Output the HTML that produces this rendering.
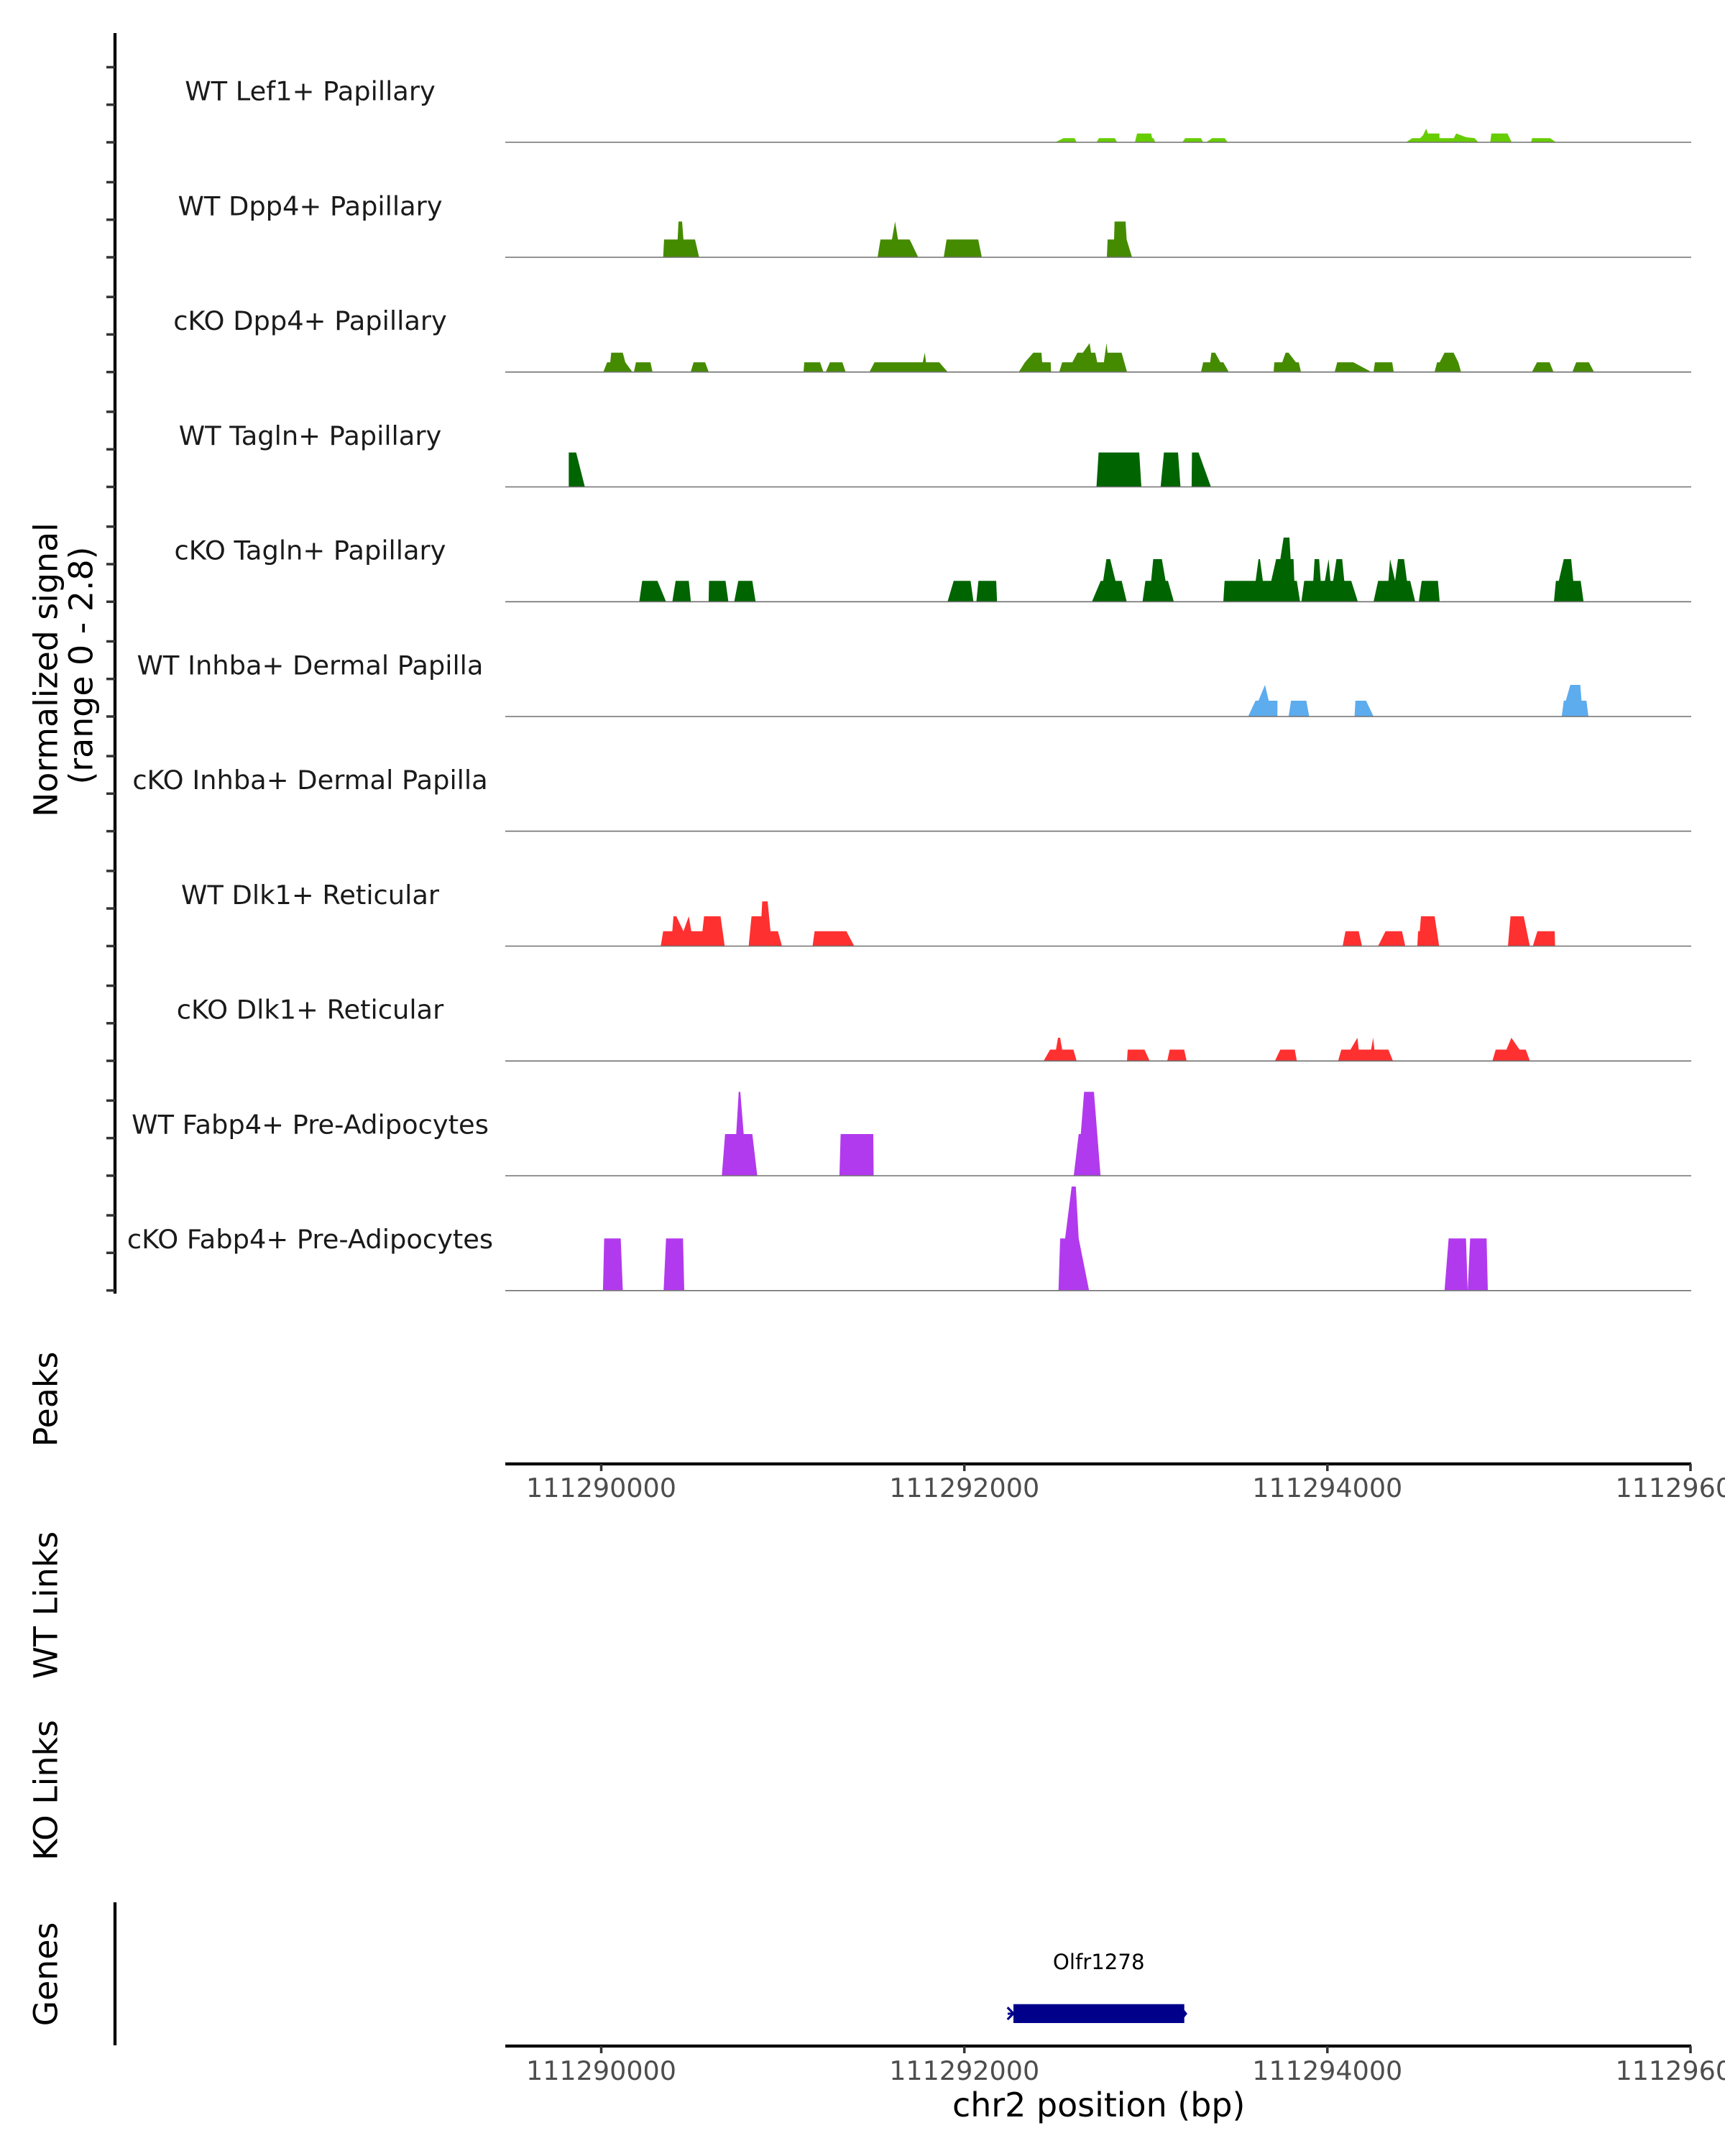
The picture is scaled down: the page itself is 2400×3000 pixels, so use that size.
<!DOCTYPE html>
<html>
<head>
<meta charset="utf-8">
<style>
  html, body { margin: 0; padding: 0; background: #ffffff; }
  svg { display: block; }
  text { font-family: "DejaVu Sans", "Liberation Sans", sans-serif; }
</style>
</head>
<body>
<svg xmlns="http://www.w3.org/2000/svg" width="2400" height="3000" viewBox="0 0 2400 3000">
  <rect x="0" y="0" width="2400" height="3000" fill="#ffffff"/>

  <!-- Left y axis for coverage tracks -->
  <line x1="160" y1="46" x2="160" y2="1800" stroke="#000" stroke-width="4.3"/>
  <g stroke="#333333" stroke-width="3.5">
    <line x1="148" y1="198" x2="160" y2="198"/><line x1="148" y1="145.7" x2="160" y2="145.7"/><line x1="148" y1="93.5" x2="160" y2="93.5"/>
    <line x1="148" y1="358" x2="160" y2="358"/><line x1="148" y1="305.7" x2="160" y2="305.7"/><line x1="148" y1="253.5" x2="160" y2="253.5"/>
    <line x1="148" y1="517.7" x2="160" y2="517.7"/><line x1="148" y1="465.4" x2="160" y2="465.4"/><line x1="148" y1="413.2" x2="160" y2="413.2"/>
    <line x1="148" y1="677.5" x2="160" y2="677.5"/><line x1="148" y1="625.2" x2="160" y2="625.2"/><line x1="148" y1="573" x2="160" y2="573"/>
    <line x1="148" y1="837.3" x2="160" y2="837.3"/><line x1="148" y1="785" x2="160" y2="785"/><line x1="148" y1="732.8" x2="160" y2="732.8"/>
    <line x1="148" y1="997" x2="160" y2="997"/><line x1="148" y1="944.7" x2="160" y2="944.7"/><line x1="148" y1="892.5" x2="160" y2="892.5"/>
    <line x1="148" y1="1156.6" x2="160" y2="1156.6"/><line x1="148" y1="1104.3" x2="160" y2="1104.3"/><line x1="148" y1="1052.1" x2="160" y2="1052.1"/>
    <line x1="148" y1="1316.4" x2="160" y2="1316.4"/><line x1="148" y1="1264.1" x2="160" y2="1264.1"/><line x1="148" y1="1211.9" x2="160" y2="1211.9"/>
    <line x1="148" y1="1476.1" x2="160" y2="1476.1"/><line x1="148" y1="1423.8" x2="160" y2="1423.8"/><line x1="148" y1="1371.6" x2="160" y2="1371.6"/>
    <line x1="148" y1="1635.9" x2="160" y2="1635.9"/><line x1="148" y1="1583.6" x2="160" y2="1583.6"/><line x1="148" y1="1531.4" x2="160" y2="1531.4"/>
    <line x1="148" y1="1795.6" x2="160" y2="1795.6"/><line x1="148" y1="1743.3" x2="160" y2="1743.3"/><line x1="148" y1="1691.1" x2="160" y2="1691.1"/>
  </g>

  <!-- Y axis title -->
  <text transform="translate(79.6,932) rotate(-90)" text-anchor="middle" font-size="45.8" fill="#000">Normalized signal</text>
  <text transform="translate(128.6,926) rotate(-90)" text-anchor="middle" font-size="45.8" fill="#000">(range 0 - 2.8)</text>

  <!-- Track labels -->
  <g font-size="36.8" fill="#1a1a1a" text-anchor="middle">
    <text x="431.5" y="139.6">WT Lef1+ Papillary</text>
    <text x="431.5" y="299.4">WT Dpp4+ Papillary</text>
    <text x="431.5" y="459.1">cKO Dpp4+ Papillary</text>
    <text x="431.5" y="618.9">WT Tagln+ Papillary</text>
    <text x="431.5" y="778.6">cKO Tagln+ Papillary</text>
    <text x="431.5" y="938.4">WT Inhba+ Dermal Papilla</text>
    <text x="431.5" y="1098.1">cKO Inhba+ Dermal Papilla</text>
    <text x="431.5" y="1257.9">WT Dlk1+ Reticular</text>
    <text x="431.5" y="1417.6">cKO Dlk1+ Reticular</text>
    <text x="431.5" y="1577.4">WT Fabp4+ Pre-Adipocytes</text>
    <text x="431.5" y="1737.1">cKO Fabp4+ Pre-Adipocytes</text>
  </g>

  <!-- Track 1: WT Lef1+ -->
  <g fill="#66CD00">
    <polygon points="1468,198 1479.6,192.3 1495,192.3 1498,198"/>
    <polygon points="1525.6,198 1529,192.3 1551,192.3 1554.3,198"/>
    <polygon points="1579,198 1582,185.8 1601.6,185.8 1603,192.3 1605,192.3 1607.3,198"/>
    <polygon points="1645,198 1649,192.3 1671,192.3 1674,198"/>
    <polygon points="1678,198 1686.6,192.3 1704,192.3 1708,198"/>
    <polygon points="1956,198 1965,192.3 1976,192.3 1980,188 1984.3,179 1986.7,185.8 2002.7,185.8 2002.7,192.3 2022.7,192.3 2026,185.8 2040,191 2051.7,192.3 2056.7,198"/>
    <polygon points="2073.3,198 2075,185.8 2097.3,185.8 2103.3,198"/>
    <polygon points="2130,198 2131.7,192.3 2156.7,192.3 2165,198"/>
  </g>

  <!-- Track 2: WT Dpp4+ -->
  <g fill="#458B00">
    <polygon points="922.7,358 923.9,333.2 942.8,333.2 944,308.3 949,308.3 950.9,333.2 967,333.2 972.7,358"/>
    <polygon points="1221,358 1225,333.2 1241,333.2 1245.3,308.3 1249.4,333.2 1265.5,333.2 1268,338 1277.5,358"/>
    <polygon points="1313,358 1317,333.2 1361,333.2 1366,358"/>
    <polygon points="1540,358 1541,333.2 1550,333.2 1550.7,308.3 1566,308.3 1567.5,333.2 1575,358"/>
  </g>

  <!-- Track 3: cKO Dpp4+ -->
  <g fill="#458B00">
    <polygon points="839.5,517.4 844.7,504.1 849,504.1 850.4,490.8 866.5,490.8 870,504.1 879.7,517.4"/>
    <polygon points="882,517.4 884.8,504.1 905,504.1 907.8,517.4"/>
    <polygon points="961,517.4 965,504.1 981,504.1 986,517.4"/>
    <polygon points="1118,517.4 1119,504.1 1141,504.1 1145.5,517.4"/>
    <polygon points="1149,517.4 1154.7,504.1 1172,504.1 1176.5,517.4"/>
    <polygon points="1209.8,517.4 1216.7,504.1 1283.8,504.1 1286.7,490.8 1288.4,504.1 1306.8,504.1 1318.3,517.4"/>
    <polygon points="1417.6,517.4 1426,504.1 1437.7,490.8 1449,490.8 1450,504.1 1461.8,504.1 1462.3,517.4"/>
    <polygon points="1473.8,517.4 1477.8,504.1 1492,504.1 1499,490.8 1506.6,490.8 1516,477.5 1518,490.8 1523.8,490.8 1526.6,504.1 1535.8,504.1 1539.5,477.5 1541,490.8 1560.5,490.8 1568,517.4"/>
    <polygon points="1671,517.4 1674,504.1 1683.7,504.1 1685.4,490.8 1690.6,490.8 1698,504.1 1702,504.1 1709.5,517.4"/>
    <polygon points="1772,517.4 1773,504.1 1784,504.1 1788.7,490.8 1792.8,490.8 1803,504.1 1807,504.1 1810,517.4"/>
    <polygon points="1857,517.4 1860.5,504.1 1883,504.1 1907.6,517.4"/>
    <polygon points="1911,517.4 1913,504.1 1937,504.1 1939,517.4"/>
    <polygon points="1996,517.4 1999.4,504.1 2003,504.1 2009.8,490.8 2022.4,490.8 2029,504.1 2032.7,517.4"/>
    <polygon points="2131.5,517.4 2138.4,504.1 2156,504.1 2161.3,517.4"/>
    <polygon points="2187.7,517.4 2193,504.1 2210.7,504.1 2217.6,517.4"/>
  </g>

  <!-- Track 4: WT Tagln+ -->
  <g fill="#006400">
    <polygon points="791.3,677.5 791.3,629.6 801.6,629.6 813.7,677.5"/>
    <polygon points="1525.5,677.5 1528.5,629.6 1585,629.6 1588,677.5"/>
    <polygon points="1614.8,677.5 1619.4,629.6 1639,629.6 1642.4,677.5"/>
    <polygon points="1657.9,677.5 1658.4,629.6 1667.6,629.6 1684.8,677.5"/>
  </g>

  <!-- Track 5: cKO Tagln+ -->
  <g fill="#006400">
    <polygon points="889.4,837.3 893.5,808.2 914.7,808.2 926.7,837.3"/>
    <polygon points="935.4,837.3 940,808.2 958.3,808.2 961.2,837.3"/>
    <polygon points="985.9,837.3 986.5,808.2 1009.4,808.2 1013.4,837.3"/>
    <polygon points="1021.5,837.3 1027.2,808.2 1046.7,808.2 1051.3,837.3"/>
    <polygon points="1318.3,837.3 1326.9,808.2 1350.4,808.2 1354.4,837.3"/>
    <polygon points="1358.4,837.3 1361.3,808.2 1386,808.2 1387.2,837.3"/>
    <polygon points="1519.2,837.3 1531.4,808.2 1534.8,808.2 1539.4,778 1544.6,778 1552,808.2 1560.6,808.2 1567.6,837.3"/>
    <polygon points="1589.6,837.3 1593.6,808.2 1601.6,808.2 1604.5,778 1616.5,778 1621.7,808.2 1625,808.2 1633.2,837.3"/>
    <polygon points="1702,837.3 1703.8,808.2 1747,808.2 1751,778 1753,778 1757,808.2 1768.7,808.2 1775.5,778 1781.3,778 1785.9,748 1794,748 1795.6,778 1799.7,778 1800.8,808.2 1804.3,808.2 1808.8,837.3"/>
    <polygon points="1810.6,837.3 1814.6,808.2 1827.2,808.2 1829,778 1835.3,778 1837.5,808.2 1843.3,808.2 1848.5,778 1851,808.2 1854.8,808.2 1859.4,778 1867.4,778 1870.3,808.2 1880,808.2 1889.2,837.3"/>
    <polygon points="1911,837.3 1917.4,808.2 1931.7,808.2 1934,778 1941,808.2 1945,778 1953.5,778 1957.5,808.2 1962,808.2 1969,837.3"/>
    <polygon points="1974,837.3 1978,808.2 2000.6,808.2 2003,837.3"/>
    <polygon points="2162,837.3 2164.7,808.2 2168.8,808.2 2175.7,778 2186,778 2188.9,808.2 2199.2,808.2 2203.2,837.3"/>
  </g>

  <!-- Track 6: WT Inhba+ -->
  <g fill="#5CACEE">
    <polygon points="1736.5,997 1746.8,975 1750.9,975 1760,953 1765.2,975 1777.3,975 1777.3,997"/>
    <polygon points="1792.8,997 1796.2,975 1817.5,975 1821.5,997"/>
    <polygon points="1884.6,997 1885.8,975 1900.7,975 1911,997"/>
    <polygon points="2172.8,997 2175.7,975 2178.5,975 2184.8,953 2198.6,953 2200.4,975 2207.2,975 2210,997"/>
  </g>

  <!-- Track 8: WT Dlk1+ -->
  <g fill="#FF3030">
    <polygon points="919.3,1316.5 922.7,1295.8 935.4,1295.8 937,1275 941,1275 950.9,1295.8 958.3,1275 961.8,1295.8 977.3,1295.8 979.6,1275 1002.5,1275 1008.3,1316.5"/>
    <polygon points="1041.6,1316.5 1045.6,1275 1059.4,1275 1060.5,1254.2 1068,1254.2 1072,1295.8 1082.3,1295.8 1088,1316.5"/>
    <polygon points="1130.5,1316.5 1133.4,1295.8 1177.6,1295.8 1188.5,1316.5"/>
    <polygon points="1868,1316.5 1872,1295.8 1890.4,1295.8 1895,1316.5"/>
    <polygon points="1917.3,1316.5 1927.7,1295.8 1950.6,1295.8 1955.2,1316.5"/>
    <polygon points="1971.9,1316.5 1973,1295.8 1975.3,1295.8 1977,1275 1996,1275 2002.3,1316.5"/>
    <polygon points="2098,1316.5 2101.6,1275 2120,1275 2128.5,1316.5"/>
    <polygon points="2132.6,1316.5 2139,1295.8 2163,1295.8 2163.6,1316.5"/>
  </g>

  <!-- Track 9: cKO Dlk1+ -->
  <g fill="#FF3030">
    <polygon points="1452,1476.3 1461,1460.5 1469.2,1460.5 1472,1444 1475,1444 1477.8,1460.5 1493.4,1460.5 1498,1476.3"/>
    <polygon points="1568,1476.3 1569,1460.5 1592.3,1460.5 1599.6,1476.3"/>
    <polygon points="1624,1476.3 1627.4,1460.5 1647.5,1460.5 1651,1476.3"/>
    <polygon points="1773.8,1476.3 1781.3,1460.5 1801.4,1460.5 1804.3,1476.3"/>
    <polygon points="1861.7,1476.3 1866.2,1460.5 1878.9,1460.5 1888.6,1444 1890.4,1460.5 1907.6,1460.5 1910.5,1444 1912.2,1460.5 1931.7,1460.5 1938,1476.3"/>
    <polygon points="2076.4,1476.3 2081,1460.5 2095.9,1460.5 2102.8,1444 2114.2,1460.5 2122.8,1460.5 2128.6,1476.3"/>
  </g>

  <!-- Track 10: WT Fabp4+ -->
  <g fill="#B23AEE">
    <polygon points="1004.3,1636 1008.8,1578 1024.3,1578 1027.8,1519.3 1030,1519.3 1034.7,1578 1046.7,1578 1053.6,1636"/>
    <polygon points="1167.9,1636 1169.6,1578 1215,1578 1215.5,1636"/>
    <polygon points="1493.9,1636 1500.8,1578 1503.7,1578 1508.3,1519.3 1522,1519.3 1531.2,1636"/>
  </g>

  <!-- Track 11: cKO Fabp4+ -->
  <g fill="#B23AEE">
    <polygon points="838.9,1795.6 840.6,1723.2 863.6,1723.2 866.5,1795.6"/>
    <polygon points="923.3,1795.6 926.7,1723.2 950.3,1723.2 952,1795.6"/>
    <polygon points="1472.7,1795.6 1475,1723.2 1481.9,1723.2 1491,1651 1496.8,1651 1500.8,1723.2 1515.2,1795.6"/>
    <polygon points="2009.8,1795.6 2015.5,1723.2 2039.6,1723.2 2042,1795.6 2045.4,1723.2 2068.3,1723.2 2070,1795.6"/>
  </g>

  <!-- Baselines -->
  <g stroke="#707070" stroke-width="1.6">
    <line x1="703" y1="198" x2="2353" y2="198"/>
    <line x1="703" y1="358" x2="2353" y2="358"/>
    <line x1="703" y1="517.7" x2="2353" y2="517.7"/>
    <line x1="703" y1="677.5" x2="2353" y2="677.5"/>
    <line x1="703" y1="837.3" x2="2353" y2="837.3"/>
    <line x1="703" y1="997" x2="2353" y2="997"/>
    <line x1="703" y1="1156.6" x2="2353" y2="1156.6"/>
    <line x1="703" y1="1316.5" x2="2353" y2="1316.5"/>
    <line x1="703" y1="1476.3" x2="2353" y2="1476.3"/>
    <line x1="703" y1="1636" x2="2353" y2="1636"/>
    <line x1="703" y1="1795.8" x2="2353" y2="1795.8"/>
  </g>

  <!-- Peaks x axis -->
  <line x1="703" y1="2037" x2="2353" y2="2037" stroke="#000" stroke-width="4.3"/>
  <g stroke="#333333" stroke-width="3.5">
    <line x1="836.5" y1="2037" x2="836.5" y2="2047"/>
    <line x1="1341.7" y1="2037" x2="1341.7" y2="2047"/>
    <line x1="1846.8" y1="2037" x2="1846.8" y2="2047"/>
    <line x1="2352" y1="2037" x2="2352" y2="2047"/>
  </g>
  <g font-size="36.5" fill="#4d4d4d" text-anchor="middle">
    <text x="836.5" y="2083">111290000</text>
    <text x="1341.7" y="2083">111292000</text>
    <text x="1846.8" y="2083">111294000</text>
    <text x="2352" y="2083">111296000</text>
  </g>

  <!-- Side labels -->
  <g font-size="45.8" fill="#000" text-anchor="middle">
    <text transform="translate(79.6,1947) rotate(-90)">Peaks</text>
    <text transform="translate(79.6,2233.5) rotate(-90)">WT Links</text>
    <text transform="translate(79.6,2491) rotate(-90)">KO Links</text>
    <text transform="translate(79.6,2747) rotate(-90)">Genes</text>
  </g>

  <!-- Genes panel -->
  <line x1="160" y1="2647" x2="160" y2="2846" stroke="#000" stroke-width="4.3"/>
  <text x="1528.7" y="2740" font-size="29.2" fill="#000" text-anchor="middle">Olfr1278</text>
  <line x1="1402" y1="2802" x2="1650" y2="2802" stroke="#00008B" stroke-width="3"/>
  <polyline points="1401.7,2793.3 1410,2801.7 1401.7,2810" fill="none" stroke="#00008B" stroke-width="3.2"/>
  <polyline points="1646,2797 1650,2802 1646,2807" fill="none" stroke="#00008B" stroke-width="3"/>
  <rect x="1410" y="2788.7" width="237.7" height="26.3" fill="#00008B"/>

  <!-- Bottom x axis -->
  <line x1="703" y1="2847" x2="2353" y2="2847" stroke="#000" stroke-width="4.3"/>
  <g stroke="#333333" stroke-width="3.5">
    <line x1="836.5" y1="2847" x2="836.5" y2="2857"/>
    <line x1="1341.7" y1="2847" x2="1341.7" y2="2857"/>
    <line x1="1846.8" y1="2847" x2="1846.8" y2="2857"/>
    <line x1="2352" y1="2847" x2="2352" y2="2857"/>
  </g>
  <g font-size="36.5" fill="#4d4d4d" text-anchor="middle">
    <text x="836.5" y="2894">111290000</text>
    <text x="1341.7" y="2894">111292000</text>
    <text x="1846.8" y="2894">111294000</text>
    <text x="2352" y="2894">111296000</text>
  </g>
  <text x="1528.7" y="2945" font-size="45.9" fill="#000" text-anchor="middle">chr2 position (bp)</text>
</svg>
</body>
</html>
